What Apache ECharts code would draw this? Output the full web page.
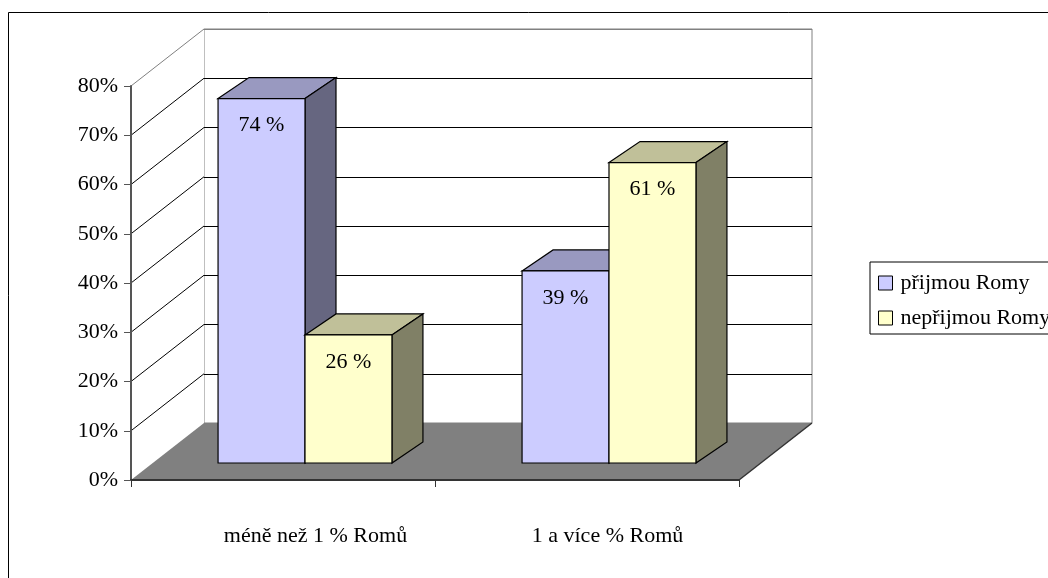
<!DOCTYPE html>
<html>
<head>
<meta charset="utf-8">
<script src="https://cdn.jsdelivr.net/npm/echarts@6/dist/echarts.min.js"></script>
<style>
  html, body { margin: 0; padding: 0; background: #fff; }
  #chart { width: 1048px; height: 578px; }
</style>
</head>
<body>
<div id="chart"></div>
<script>
// Category labels, series names and values (percent)
const categories = ['méně než 1 % Romů', '1 a více % Romů'];
const seriesNames = ['přijmou Romy', 'nepřijmou Romy'];
const acceptValues = [74, 39];
const rejectValues = [26, 61];
const yTicks = [0, 10, 20, 30, 40, 50, 60, 70, 80];

const FONT = '"Liberation Serif", "Times New Roman", serif';

// Front plane of the plot and depth offsets of the pseudo-3D box
const FRONT = { left: 131, top: 86, width: 608, height: 394 };
const WALL = [73, -57];       // floor / side wall depth
const BAR_FRONT = [22, -17];  // bars stand this far back on the floor
const BAR_DEPTH = [31, -21];  // extrusion of each bar
const BAR_RATIO = 0.286;      // bar width as a share of the category band

const palettes = [
  { front: '#CCCCFF', top: '#9999C0', side: '#666680' },
  { front: '#FFFFCC', top: '#C0C099', side: '#808066' }
];

// Side wall with its diagonal gridlines, plus the grey floor
function renderFrame(params, api) {
  const band = api.size([1, 0])[0];
  const x0 = api.coord([0, 0])[0] - band / 2;
  const x1 = api.coord([categories.length - 1, 0])[0] + band / 2;
  const yBase = api.coord([0, 0])[1];
  const yTop = api.coord([0, yTicks[yTicks.length - 1]])[1];
  const dx = WALL[0], dy = WALL[1];
  const children = [];
  children.push({
    type: 'polygon',
    shape: { points: [[x0, yBase], [x0, yTop], [x0 + dx, yTop + dy], [x0 + dx, yBase + dy]] },
    style: { fill: '#fff' }
  });
  yTicks.slice(1).forEach(function (v, i, arr) {
    const y = api.coord([0, v])[1];
    children.push({
      type: 'line',
      shape: { x1: x0, y1: y, x2: x0 + dx, y2: y + dy },
      style: { stroke: i === arr.length - 1 ? '#808080' : '#000', lineWidth: 1 }
    });
  });
  children.push({
    type: 'polygon',
    shape: { points: [[x0, yBase], [x0 + dx, yBase + dy], [x1 + dx, yBase + dy], [x1, yBase]] },
    style: { fill: '#808080' }
  });
  children.push({
    type: 'line',
    shape: { x1: x1, y1: yBase, x2: x1 + dx, y2: yBase + dy },
    style: { stroke: '#333', lineWidth: 1.5 }
  });
  return { type: 'group', children: children };
}

// Extruded bar: top, right side, front face and value label
function makeBarRenderer(seriesIdx) {
  return function (params, api) {
    const ci = api.value(0);
    const v = api.value(1);
    const band = api.size([1, 0])[0];
    const w = band * BAR_RATIO;
    const base = api.coord([ci, 0]);
    const top = api.coord([ci, v]);
    const left = base[0] - w + seriesIdx * w + BAR_FRONT[0];
    const bottom = base[1] + BAR_FRONT[1];
    const ty = top[1] + BAR_FRONT[1];
    const dx = BAR_DEPTH[0], dy = BAR_DEPTH[1];
    const pal = palettes[seriesIdx];
    return {
      type: 'group',
      children: [
        {
          type: 'polygon',
          shape: { points: [[left, ty], [left + dx, ty + dy], [left + w + dx, ty + dy], [left + w, ty]] },
          style: { fill: pal.top, stroke: '#000', lineWidth: 1.2 }
        },
        {
          type: 'polygon',
          shape: { points: [[left + w, ty], [left + w + dx, ty + dy], [left + w + dx, bottom + dy], [left + w, bottom]] },
          style: { fill: pal.side, stroke: '#000', lineWidth: 1.2 }
        },
        {
          type: 'rect',
          shape: { x: left, y: ty, width: w, height: bottom - ty },
          style: { fill: pal.front, stroke: '#000', lineWidth: 1.2 }
        },
        {
          type: 'text',
          style: {
            text: v + ' %',
            x: left + w / 2,
            y: ty + 27,
            align: 'center',
            verticalAlign: 'middle',
            fontFamily: FONT,
            fontSize: 22,
            fill: '#000'
          }
        }
      ]
    };
  };
}

const seriesValues = [acceptValues, rejectValues];
const labelShift = [65, 41];

const chart = echarts.init(document.getElementById('chart'), null, { renderer: 'canvas' });

chart.setOption({
  animation: false,
  backgroundColor: '#fff',
  textStyle: { fontFamily: FONT },
  graphic: [{
    type: 'rect',
    shape: { x: 8.5, y: 12.5, width: 1100, height: 600 },
    style: { fill: 'none', stroke: '#000', lineWidth: 1 },
    z: -10
  }],
  legend: {
    orient: 'vertical',
    left: 870,
    top: 262,
    padding: [9, 8, 4, 8],
    itemGap: 11,
    itemWidth: 14,
    itemHeight: 14,
    icon: 'rect',
    borderColor: '#000',
    borderWidth: 1,
    textStyle: { fontFamily: FONT, fontSize: 22, color: '#000', lineHeight: 24, padding: [0, 0, 0, 3] },
    data: seriesNames.map(function (n, i) {
      return { name: n, itemStyle: { color: palettes[i].front, borderColor: '#000', borderWidth: 1 } };
    })
  },
  grid: [
    { left: FRONT.left, top: FRONT.top, width: FRONT.width, height: FRONT.height, outerBoundsMode: 'none' },
    {
      left: FRONT.left + WALL[0], top: FRONT.top + WALL[1], width: FRONT.width, height: FRONT.height,
      show: true, borderColor: '#808080', borderWidth: 1, backgroundColor: 'transparent',
      outerBoundsMode: 'none'
    }
  ],
  xAxis: [
    {
      type: 'category',
      gridIndex: 0,
      data: categories,
      z: 5,
      axisLine: { show: true, lineStyle: { color: '#333', width: 2 } },
      axisTick: { show: true, length: 7, lineStyle: { color: '#333', width: 1 } },
      axisLabel: {
        margin: 45,
        color: '#000',
        fontFamily: FONT,
        fontSize: 22,
        formatter: function (val, idx) { return '{c' + idx + '|' + val + '}'; },
        rich: {
          c0: { fontFamily: FONT, fontSize: 22, color: '#000', padding: [0, 0, 0, labelShift[0]] },
          c1: { fontFamily: FONT, fontSize: 22, color: '#000', padding: [0, 0, 0, labelShift[1]] }
        }
      }
    },
    { type: 'category', gridIndex: 1, data: categories, show: false }
  ],
  yAxis: [
    {
      type: 'value',
      gridIndex: 0,
      min: 0, max: 80, interval: 10,
      z: 5,
      axisLine: { show: true, lineStyle: { color: '#555', width: 2 } },
      axisTick: { show: true, length: 7, lineStyle: { color: '#555', width: 1 } },
      axisLabel: { formatter: '{value}%', margin: 13, color: '#000', fontFamily: FONT, fontSize: 22 },
      splitLine: { show: false }
    },
    {
      type: 'value',
      gridIndex: 1,
      min: 0, max: 80, interval: 10,
      axisLine: { show: false },
      axisTick: { show: false },
      axisLabel: { show: false },
      splitLine: {
        show: true,
        lineStyle: { color: ['#808080', '#000', '#000', '#000', '#000', '#000', '#000', '#000', '#808080'], width: 1 }
      }
    }
  ],
  series: [
    {
      type: 'custom',
      name: 'frame',
      xAxisIndex: 0, yAxisIndex: 0,
      silent: true,
      z: 1,
      renderItem: renderFrame,
      data: [[0, 0]]
    }
  ].concat(seriesNames.map(function (name, si) {
    return {
      type: 'custom',
      name: name,
      xAxisIndex: 0, yAxisIndex: 0,
      z: 3,
      itemStyle: { color: palettes[si].front, borderColor: '#000', borderWidth: 1 },
      renderItem: makeBarRenderer(si),
      data: seriesValues[si].map(function (v, ci) { return [ci, v]; })
    };
  }))
});
</script>
</body>
</html>
